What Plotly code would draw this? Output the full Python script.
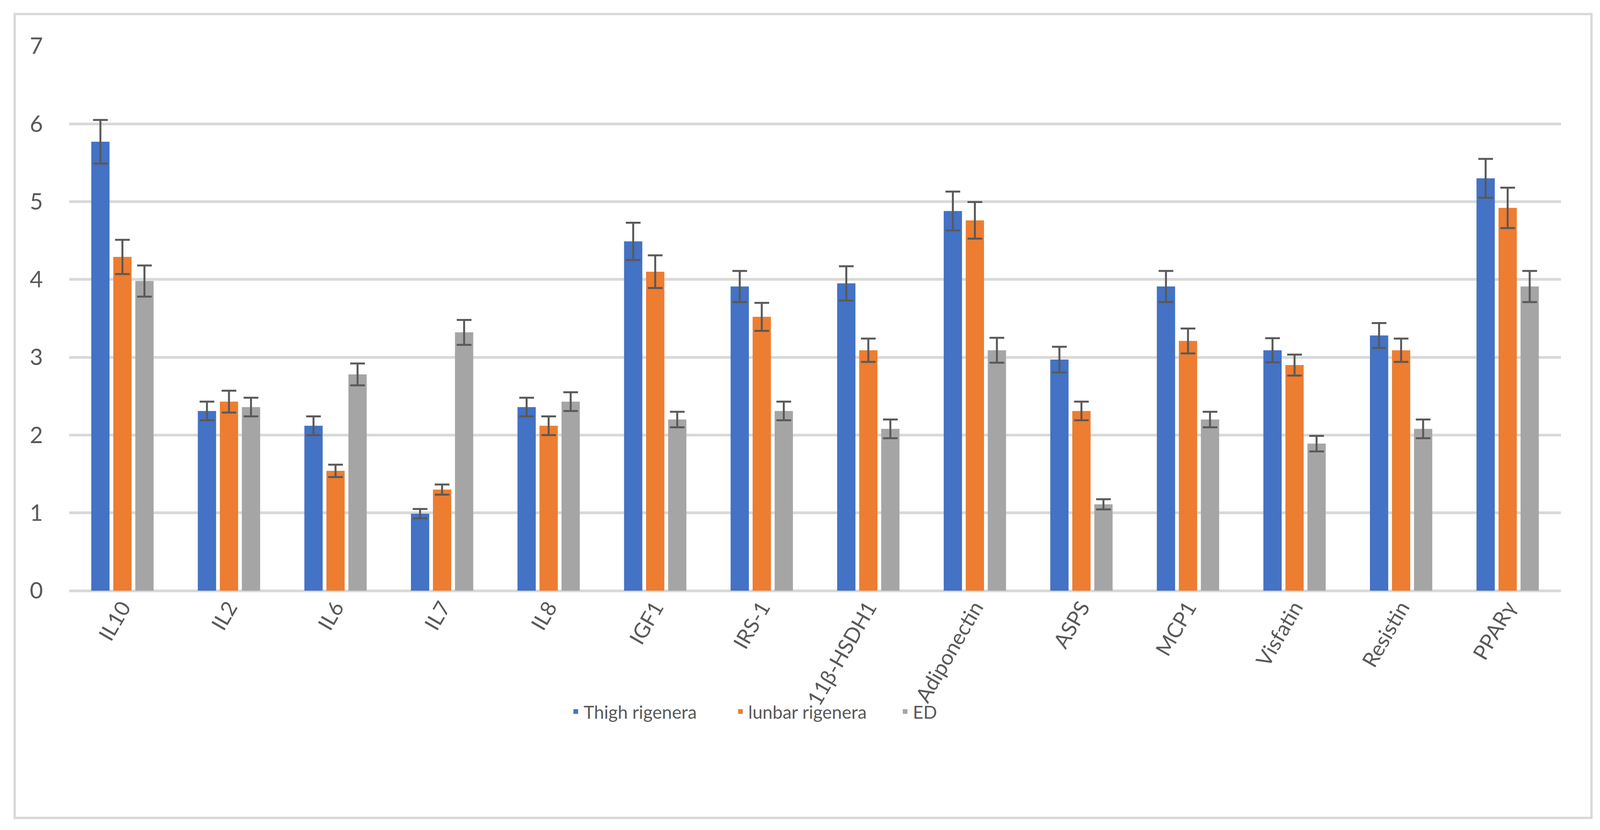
import plotly.graph_objects as go

categories = ["IL10", "IL2", "IL6", "IL7", "IL8", "IGF1", "IRS-1", "11β-HSDH1",
              "Adiponectin", "ASPS", "MCP1", "Visfatin", "Resistin", "PPARγ"]

thigh = [5.77, 2.31, 2.12, 0.99, 2.36, 4.49, 3.91, 3.95, 4.88, 2.97, 3.91, 3.09, 3.28, 5.30]
thigh_err = [0.28, 0.12, 0.12, 0.06, 0.12, 0.24, 0.20, 0.22, 0.25, 0.165, 0.20, 0.155, 0.16, 0.25]

lunbar = [4.29, 2.43, 1.54, 1.30, 2.12, 4.10, 3.52, 3.09, 4.76, 2.31, 3.21, 2.90, 3.09, 4.92]
lunbar_err = [0.22, 0.14, 0.08, 0.065, 0.12, 0.21, 0.18, 0.15, 0.235, 0.12, 0.16, 0.135, 0.15, 0.26]

ed = [3.98, 2.36, 2.78, 3.32, 2.43, 2.20, 2.31, 2.08, 3.09, 1.11, 2.20, 1.89, 2.08, 3.91]
ed_err = [0.20, 0.12, 0.14, 0.16, 0.12, 0.10, 0.12, 0.12, 0.16, 0.065, 0.10, 0.10, 0.12, 0.20]

series_names = ["Thigh rigenera", "lunbar rigenera", "ED"]
colors = ["#4472C4", "#ED7D31", "#A5A5A5"]
y_ticks = [0, 1, 2, 3, 4, 5, 6, 7]

W, H = 4351, 2126
L, R, T, B = 188, 4351 - 4245, 118, 2126 - 1513
text_color = "#595959"
font_family = "Lato, 'Open Sans', sans-serif"

fig = go.Figure()
for name, vals, errs, col in zip(series_names, [thigh, lunbar, ed],
                                 [thigh_err, lunbar_err, ed_err], colors):
    fig.add_trace(go.Bar(
        x=categories, y=vals, name=name,
        marker=dict(color=col, line=dict(width=0)),
        error_y=dict(type="data", array=errs, visible=True,
                     color="#595959", thickness=5, width=20),
    ))

pw = W - L - R
ph = H - T - B
# outer chart border (in paper coordinates)
fig.add_shape(type="rect", xref="paper", yref="paper",
              x0=(40 - L) / pw, x1=(4328 - L) / pw,
              y0=(H - B - 2095) / ph, y1=(H - B - 36) / ph,
              line=dict(color="#D9D9D9", width=6), fillcolor="rgba(0,0,0,0)",
              layer="below")

fig.update_layout(
    autosize=True, height=H,
    margin=dict(l=L, r=R, t=T, b=B, pad=0),
    paper_bgcolor="white", plot_bgcolor="white",
    barmode="group", bargap=0.38, bargroupgap=0.17,
    font=dict(family=font_family, color=text_color, size=54),
    showlegend=True,
    legend=dict(orientation="h", xanchor="center", yanchor="middle",
                x=0.50, y=-0.222, font=dict(size=46, color=text_color),
                entrywidth=400, entrywidthmode="pixels",
                itemwidth=30, bgcolor="rgba(0,0,0,0)"),
    xaxis=dict(tickangle=-60, tickfont=dict(size=54, color=text_color),
               showgrid=False, showline=False, ticks="", zeroline=False,
               automargin=False),
    yaxis=dict(range=[0, 7], tickvals=y_ticks, showgrid=True,
               gridcolor="#D9D9D9", gridwidth=7, zeroline=True,
               zerolinecolor="#D9D9D9", zerolinewidth=7,
               showline=False, ticks="", ticklabelstandoff=66,
               tickfont=dict(size=58, color=text_color), automargin=False),
)

post = """
var gd = document.getElementById('{plot_id}');
document.body.style.margin = '0px';
document.body.style.overflow = 'hidden';
var s = window.innerWidth / %d;
Plotly.relayout(gd, {'margin.l': %d * s, 'margin.r': %d * s,
                     'legend.entrywidth': 400 * s});
Plotly.restyle(gd, {'error_y.width': 20 * s});
""" % (W, L, R)

fig.write_html(
    "out.html",
    config={"responsive": True, "displayModeBar": False},
    default_width="100%",
    default_height="%dpx" % H,
    post_script=post,
)
